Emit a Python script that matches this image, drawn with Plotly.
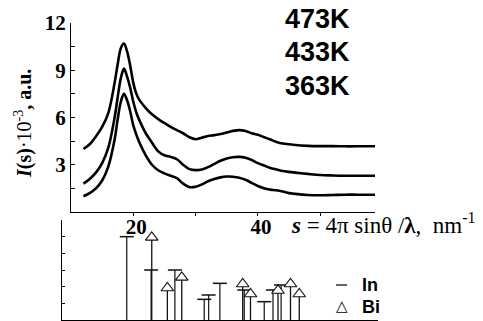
import plotly.graph_objects as go

W, H = 483, 321

# ---- data: diffraction curves I(s) (x in nm^-1, y in 10^3 a.u.) ----
s_vals = [12, 13, 14, 15, 16, 17, 17.5, 18, 18.5, 19, 19.5, 20, 20.5, 21, 22, 23, 24, 25, 26, 27,
          28, 29, 30, 31, 32, 33, 34, 35, 36, 37, 38, 39, 40, 41, 42, 43, 44, 45, 46, 48,
          50, 52, 54, 56, 58.8]
i_473 = [4.0, 4.3, 4.8, 5.4, 6.3, 8.2, 9.4, 10.4, 10.7, 10.2, 9.3, 8.2, 7.5, 7.1, 6.6, 6.2, 5.9, 5.65, 5.4, 5.2,
         5.0, 4.75, 4.62, 4.72, 4.82, 4.88, 4.95, 5.05, 5.15, 5.2, 5.15, 5.0, 4.9, 4.75, 4.6, 4.45, 4.35, 4.3, 4.25, 4.2,
         4.18, 4.18, 4.17, 4.17, 4.17]
i_433 = [1.8, 2.1, 2.5, 3.1, 4.1, 6.0, 7.3, 8.5, 9.1, 8.6, 7.9, 7.0, 6.3, 5.8, 5.0, 4.4, 3.85, 3.6, 3.5, 3.35,
         3.0, 2.72, 2.66, 2.7, 2.85, 3.05, 3.25, 3.4, 3.48, 3.5, 3.45, 3.3, 3.1, 2.95, 2.8, 2.7, 2.6, 2.55, 2.5, 2.42,
         2.35, 2.32, 2.3, 2.3, 2.3]
i_363 = [1.0, 1.2, 1.5, 2.0, 2.9, 4.6, 5.9, 7.0, 7.5, 7.1, 6.4, 5.5, 4.9, 4.4, 3.6, 3.0, 2.65, 2.45, 2.3, 2.15,
         1.8, 1.58, 1.6, 1.75, 1.95, 2.1, 2.2, 2.25, 2.24, 2.18, 2.05, 1.85, 1.65, 1.5, 1.42, 1.38, 1.3, 1.2, 1.15, 1.08,
         1.06, 1.08, 1.1, 1.1, 1.1]
temp_labels = ["473K", "433K", "363K"]

# ---- data: reference line positions ----
in_s = [19.0, 22.9, 26.7, 31.4, 32.1, 33.9, 37.8, 41.0, 42.4, 43.7]
in_h = [5.0, 3.0, 3.0, 1.24, 1.5, 2.2, 1.8, 1.1, 1.8, 2.1]
bi_s = [23.0, 25.5, 27.8, 37.55, 38.8, 43.2, 45.2, 46.6]
bi_h = [4.96, 1.92, 2.56, 2.16, 1.56, 1.77, 2.16, 1.56]

top_ticks = [1.5, 3, 4.5, 6, 7.5, 9, 10.5, 12]
top_ticktext = ["", "3", "", "6", "", "9", "", "12"]
x_ticks = [20, 30, 40, 50]
x_ticktext = ["20", "", "40", ""]

fig = go.Figure()

for y in [i_473, i_433, i_363]:
    fig.add_trace(go.Scatter(x=s_vals, y=y, mode="lines", line=dict(color="black", width=2.6, shape="spline"),
                             xaxis="x", yaxis="y", showlegend=False, hoverinfo="skip"))


def stems(xs, hs):
    X, Y = [], []
    for x, h in zip(xs, hs):
        X += [x, x, None]
        Y += [0, h, None]
    return X, Y


sx, sy = stems(in_s, in_h)
fig.add_trace(go.Scatter(x=sx, y=sy, mode="lines", line=dict(color="#222", width=1.3),
                         xaxis="x2", yaxis="y2", showlegend=False))
fig.add_trace(go.Scatter(x=in_s, y=in_h, mode="markers",
                         marker=dict(symbol="line-ew", size=10, line=dict(color="#111", width=1.5)),
                         xaxis="x2", yaxis="y2", showlegend=False))
bx, by = stems(bi_s, bi_h)
fig.add_trace(go.Scatter(x=bx, y=by, mode="lines", line=dict(color="#111", width=1.3),
                         xaxis="x2", yaxis="y2", showlegend=False))
fig.add_trace(go.Scatter(x=bi_s, y=bi_h, mode="markers",
                         marker=dict(symbol="triangle-up", size=11, color="white",
                                     line=dict(color="#111", width=1.1)),
                         xaxis="x2", yaxis="y2", showlegend=False))

serif_b = dict(family="Liberation Serif", size=21, color="black", weight="bold")

fig.update_layout(
    width=W, height=H, margin=dict(l=0, r=0, t=0, b=0, autoexpand=False),
    paper_bgcolor="white", plot_bgcolor="white",
    xaxis=dict(domain=[71 / W, 375 / W], range=[10, 58.8], anchor="y", showline=True, linecolor="black",
               linewidth=1, ticks="outside", ticklen=3, tickcolor="black", tickvals=x_ticks, ticktext=x_ticktext,
               tickfont=serif_b, showgrid=False, zeroline=False, automargin=False,
               ticklabelstandoff=-7, ticklabelshift=3),
    yaxis=dict(domain=[1 - 212 / H, 1 - 23 / H], range=[0, 12], anchor="x", showline=True, linecolor="black",
               linewidth=1, ticks="inside", ticklen=4, tickcolor="black", tickvals=top_ticks,
               ticktext=top_ticktext, tickfont=serif_b, showgrid=False, zeroline=False, automargin=False),
    xaxis2=dict(domain=[62 / W, 378 / W], range=[8.64, 59.2], anchor="y2", showline=True, linecolor="black",
                linewidth=1, ticks="", showticklabels=False, showgrid=False, zeroline=False, automargin=False),
    yaxis2=dict(domain=[1 - 320 / H, 1 - 220 / H], range=[0, 6], anchor="x2", showline=True, linecolor="black",
                linewidth=1, ticks="inside", ticklen=3, tickcolor="black", dtick=1, showticklabels=False,
                showgrid=False, zeroline=False, automargin=False),
)

ann = []
for lbl, yp in zip(temp_labels, [19, 52, 86]):
    ann.append(dict(text=lbl, x=317.5 / W, y=1 - yp / H, xref="paper", yref="paper", showarrow=False,
                    xanchor="center", yanchor="middle",
                    font=dict(family="Liberation Sans", size=27, color="black", weight="bold")))
ann.append(dict(text="<b><i>I</i>(s)</b>·10<sup>-3</sup><b>, a.u.</b>", x=23 / W, y=1 - 124 / H,
                xref="paper", yref="paper", showarrow=False, textangle=-90, xanchor="center", yanchor="middle",
                font=dict(family="Liberation Serif", size=20, color="black")))
ann.append(dict(text="<b><i>s</i></b> = 4π sinθ /<b>λ</b>,  nm<sup>-1</sup>", x=289 / W, y=1 - 223 / H,
                xref="paper", yref="paper", showarrow=False, xanchor="left", yanchor="middle",
                font=dict(family="Liberation Serif", size=23, color="black")))
ann.append(dict(text="In", x=360 / W, y=1 - 285 / H, xref="paper", yref="paper", showarrow=False,
                xanchor="left", yanchor="middle",
                font=dict(family="Liberation Sans", size=18, color="black", weight="bold")))
ann.append(dict(text="Bi", x=360 / W, y=1 - 307 / H, xref="paper", yref="paper", showarrow=False,
                xanchor="left", yanchor="middle",
                font=dict(family="Liberation Sans", size=18, color="black", weight="bold")))
ann.append(dict(text="△", x=341.5 / W, y=1 - 306 / H, xref="paper", yref="paper", showarrow=False,
                xanchor="center", yanchor="middle",
                font=dict(family="DejaVu Sans", size=15, color="black")))
fig.update_layout(annotations=ann)
fig.add_shape(type="line", xref="paper", yref="paper", x0=336 / W, x1=347 / W, y0=1 - 285 / H, y1=1 - 285 / H,
              line=dict(color="black", width=1.2))

fig.write_html("out.html", config={"displayModeBar": False},
               post_script="document.body.style.margin='0';document.body.style.padding='0';")
